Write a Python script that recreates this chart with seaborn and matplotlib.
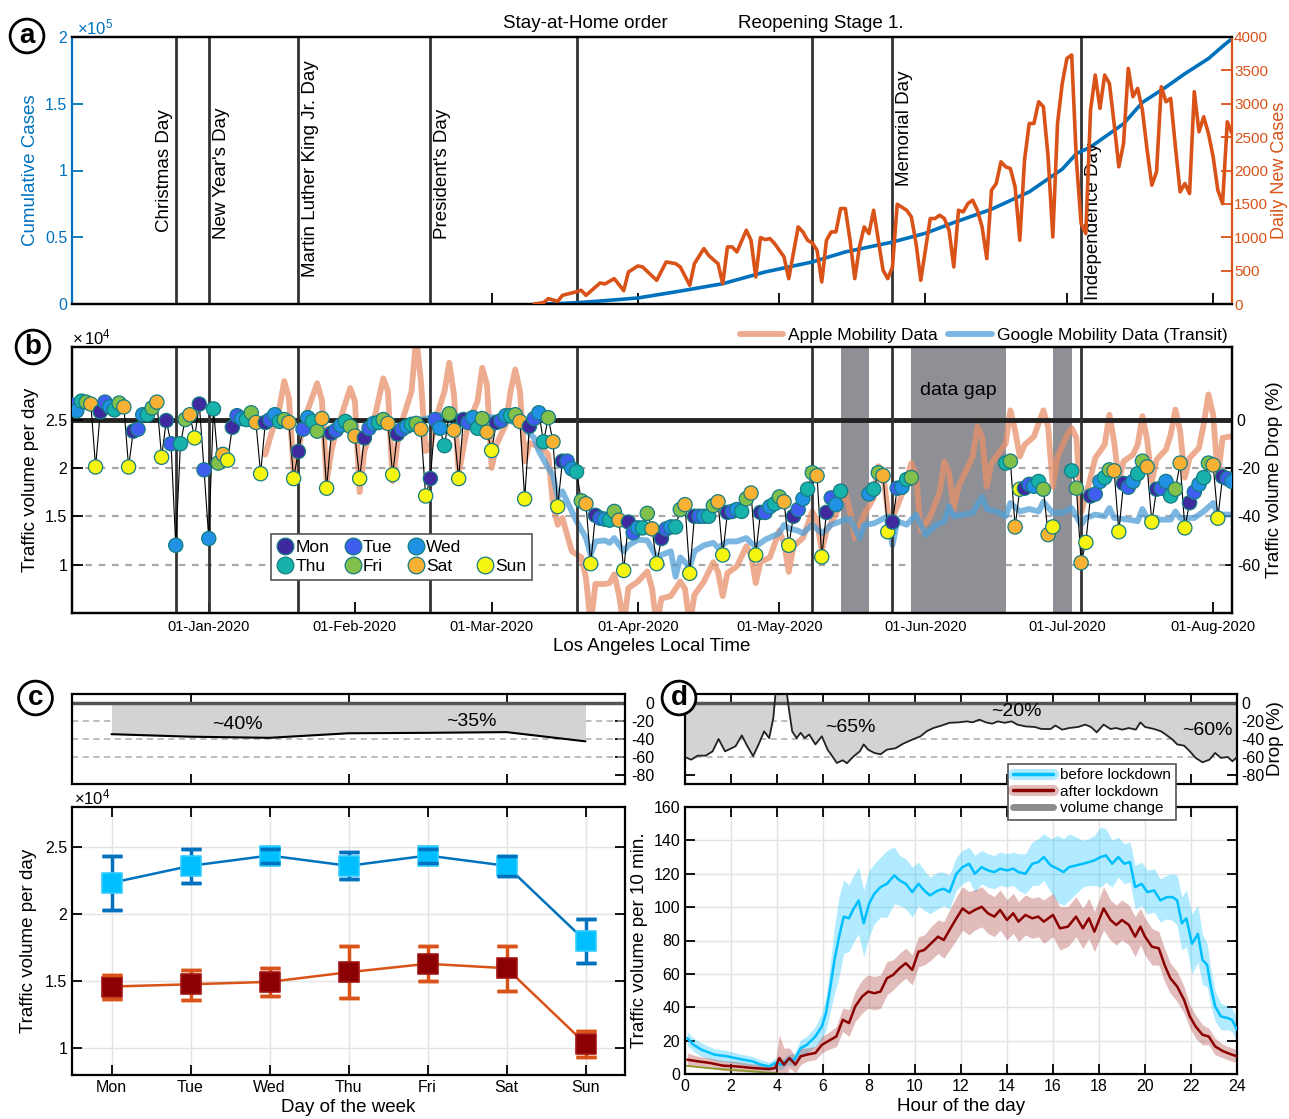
import matplotlib
matplotlib.use("Agg")
import matplotlib.pyplot as plt
import matplotlib.dates as mdates
import matplotlib.transforms as mtrans
from matplotlib.lines import Line2D
from matplotlib.ticker import FuncFormatter
import numpy as np
import pandas as pd
import seaborn as sns

# ======================= DATA =======================
holiday_names = ["Christmas Day", "New Year's Day", "Martin Luther King Jr. Day",
                 "President's Day", "Memorial Day", "Independence Day"]
holiday_dates = ["2019-12-25", "2020-01-01", "2020-01-20", "2020-02-17", "2020-05-25", "2020-07-04"]
policy_names = ["Stay-at-Home order", "Reopening Stage 1."]
policy_dates = ["2020-03-19", "2020-05-08"]

# panel a: cumulative cases
cum_days = ["03-10", "03-15", "03-20", "03-25", "04-01", "04-10", "04-19", "04-28", "05-08", "05-15",
            "05-25", "06-01", "06-07", "06-15", "06-23", "06-30", "07-03", "07-06", "07-13", "07-17",
            "07-22", "07-26", "07-31", "08-03", "08-05"]
cum_cases = [0, 300, 1200, 2500, 4500, 9700, 15200, 24000, 31500, 39000,
             46400, 53000, 61000, 71000, 84000, 101000, 112600, 117600, 135000, 151000,
             162500, 172500, 183800, 193000, 198800]

# panel a: daily new cases (irregular readings until May, then daily from Jun 2)
new_days_early = ["03-10", "03-12", "03-13", "03-15", "03-16", "03-18", "03-20", "03-21", "03-24", "03-25",
                  "03-27", "03-29", "03-30",
                  "04-01", "04-02", "04-05", "04-07", "04-09", "04-10", "04-12", "04-13", "04-15", "04-16",
                  "04-17", "04-18", "04-19", "04-20", "04-21", "04-22", "04-24", "04-25", "04-26", "04-27",
                  "04-28", "04-29", "04-30",
                  "05-02", "05-03", "05-05", "05-06", "05-07", "05-08", "05-09", "05-10", "05-11", "05-12",
                  "05-13", "05-14", "05-15", "05-16", "05-17", "05-18", "05-19", "05-20", "05-21", "05-22",
                  "05-23", "05-24", "05-25", "05-26", "05-28", "05-29", "05-30", "05-31"]
new_cases_early = [0, 20, 80, 40, 130, 165, 205, 130, 315, 300, 380, 200, 480,
                   570, 555, 355, 630, 605, 555, 280, 605, 830, 730, 665, 605, 305, 855, 855, 780, 1105,
                   955, 405, 995, 965, 980, 905,
                   705, 380, 1155, 1080, 955, 915, 805, 330, 955, 1080, 1080, 1430, 1430, 955, 380, 855,
                   1155, 1055, 1405, 955, 505, 380, 555, 1495, 1405, 1305, 905, 355]
new_cases_daily_start = "2020-06-02"
new_cases_daily = [1280, 1280, 1330, 1280, 1105, 555, 1405, 1380, 1505, 1555, 1405, 1155, 680, 1705, 1805,
                   2130, 2055, 2030, 1755, 955, 2155, 2705, 2705, 3030, 2955, 2205, 1005, 2705, 3305,
                   3680, 3730, 2155, 1205, 1055, 2905, 3430, 2930, 3430, 3305, 2705, 2055, 2405, 3530, 3105,
                   3230, 2905, 2305, 1780, 1980, 3255, 3030, 3080, 2355, 1680, 1805, 1655, 3180, 2580, 2805,
                   2555,
                   2205, 1705, 1505, 2730, 2555]

# panel b: daily traffic volume (x1e4), contiguous segments
traffic_seg_starts = ["2019-12-03", "2020-05-20", "2020-06-18", "2020-07-02"]
traffic_seg1_e4 = [
    # Dec 3-31
    2.65, 2.59, 2.69, 2.68, 2.66, 2.01, 2.58, 2.68, 2.63, 2.60, 2.67, 2.63, 2.01, 2.38, 2.40, 2.55, 2.55,
    2.62, 2.68, 2.11, 2.49, 2.25, 1.20, 2.25, 2.50, 2.55, 2.31, 2.66, 1.98,
    # Jan
    1.27, 2.61, 2.05, 2.14, 2.08, 2.42, 2.54, 2.51, 2.50, 2.57, 2.47, 1.94, 2.47, 2.50, 2.55, 2.48, 2.50,
    2.47, 1.89, 2.17, 2.40, 2.52, 2.48, 2.38, 2.51, 1.79, 2.36, 2.39, 2.44, 2.48, 2.43,
    # Feb
    2.33, 1.89, 2.31, 2.41, 2.46, 2.47, 2.50, 2.46, 1.93, 2.35, 2.40, 2.43, 2.45, 2.46, 2.40, 1.71, 1.89,
    2.50, 2.41, 2.23, 2.56, 2.39, 1.89, 2.50, 2.47, 2.52, 2.41, 2.51, 2.37,
    # Mar
    2.18, 2.47, 2.49, 2.54, 2.54, 2.55, 2.48, 1.68, 2.43, 2.51, 2.57, 2.27, 2.52, 2.27, 1.60, 2.07, 2.07,
    1.99, 1.96, 1.66, 1.63, 1.01, 1.51, 1.48, 1.47, 1.46, 1.55, 1.46, 0.94, 1.44, 1.33,
    # Apr
    1.38, 1.38, 1.53, 1.37, 1.01, 1.27, 1.37, 1.39, 1.39, 1.57, 1.62, 0.91, 1.50, 1.50, 1.50, 1.50, 1.61,
    1.65, 1.10, 1.54, 1.55, 1.57, 1.55, 1.68, 1.74, 1.10, 1.54, 1.54, 1.60, 1.63,
    # May 1-14
    1.70, 1.65, 1.20, 1.50, 1.57, 1.68, 1.78, 1.95, 1.92, 1.08, 1.54, 1.69, 1.62, 1.76]
traffic_seg2_e4 = [1.73, 1.78, 1.95, 1.92, 1.34, 1.44, 1.79, 1.80, 1.88, 1.90]
traffic_seg3_e4 = [2.05, 2.07, 1.39, 1.78, 1.79, 1.83, 1.81, 1.86, 1.78, 1.31, 1.39]
traffic_seg4_e4 = [1.97, 1.79, 1.02, 1.23, 1.71, 1.73, 1.86, 1.90, 1.98, 1.97, 1.34, 1.84, 1.80, 1.86,
                   1.94, 2.07, 2.01, 1.44, 1.78, 1.79, 1.86, 1.71, 1.78, 2.05, 1.38, 1.64, 1.75, 1.83,
                   1.90, 2.05, 2.03, 1.48, 1.91, 1.89, 1.86]

gap_starts = ["2020-05-14", "2020-05-29", "2020-06-28"]
gap_ends = ["2020-05-20", "2020-06-18", "2020-07-02"]

apple_days = ["01-13", "01-14", "01-16", "01-17", "01-18", "01-19", "01-20", "01-21", "01-22", "01-24",
              "01-25", "01-26", "01-27", "01-28", "01-29", "01-31",
              "02-01", "02-02", "02-03", "02-05", "02-07", "02-08", "02-09", "02-10", "02-11", "02-13",
              "02-14", "02-15", "02-16", "02-17", "02-18", "02-20", "02-21", "02-22", "02-23", "02-24",
              "02-25", "02-27", "02-28", "02-29",
              "03-01", "03-02", "03-04", "03-05", "03-06", "03-07", "03-08", "03-09", "03-10", "03-12",
              "03-13", "03-14", "03-15", "03-16", "03-17", "03-18", "03-20", "03-21", "03-22", "03-23",
              "03-25", "03-26", "03-27", "03-28", "03-29", "03-30",
              "04-01", "04-03", "04-04", "04-05", "04-06", "04-08", "04-10", "04-11", "04-12", "04-13",
              "04-15", "04-17", "04-18", "04-19", "04-20", "04-22", "04-24", "04-25", "04-26", "04-27",
              "04-29",
              "05-01", "05-02", "05-03", "05-04", "05-06", "05-08", "05-09", "05-10", "05-11", "05-13",
              "05-15", "05-16", "05-17", "05-19", "05-21", "05-22", "05-23", "05-24", "05-25", "05-27",
              "05-29", "05-30", "05-31",
              "06-02", "06-04", "06-05", "06-06", "06-07", "06-08", "06-10", "06-11", "06-12", "06-13",
              "06-14", "06-15", "06-17", "06-18", "06-19", "06-20", "06-21", "06-22", "06-24", "06-26",
              "06-27", "06-28", "06-29",
              "07-01", "07-02", "07-03", "07-04", "07-06", "07-07", "07-09", "07-10", "07-11", "07-12",
              "07-13", "07-15", "07-16", "07-17", "07-18", "07-19", "07-20", "07-22", "07-23", "07-24",
              "07-25", "07-26", "07-27", "07-29", "07-30", "07-31",
              "08-01", "08-02", "08-03", "08-05"]
apple_drop = [-14.5, -7.6, 4.8, 15.9, 9, -21.4, -13, -2, 4, 15, 8, -25.5, -13, -5, 0.7, 13,
              7.6, -30, -13, -0.7, 17, 11.7, -25.5, -10, -0.7, 11.7, 34, 15.9, -13, -11.7, -0.7, 11.7,
              23.5, 10.4, -22.8, -11.7, -2, 7.6, 21.4, 14.5,
              -20, -10.4, -2, 11.7, 20.7, 11.7, -17.3, -9.7, -10.4, -12.4, -14.5, -35, -43.5, -40.7,
              -47.6, -54.5, -57, -65.5, -85, -68, -68, -67.6, -64, -72.5, -85, -69.7,
              -67, -62.8, -69.7, -85, -74, -73, -67, -70, -85, -72.5, -67, -59, -63, -73, -63.5, -60.7,
              -52.4, -56, -67.6, -59, -57,
              -46, -51, -63, -52.4, -49, -38, -42, -54.5, -46, -39.3, -29.7, -38, -49, -39.3, -32.4,
              -19.3, -22, -38, -40.7, -31, -18, -22.8, -46,
              -40, -30, -17.4, -22, -37, -27.7, -19.5, -15.3, -3, -7, -27.7, -18, -12.6, -10, 3.8, -4.4,
              -15.3, -10.5, -7, 3.8, -3, -27.7, -15.3,
              -6.5, -3.5, -7.6, -38.6, -24, -15.9, -10.4, 2, -9, -25.5, -17.3, -14.5, -10.4, 1.4, -8.3,
              -25.5, -16.6, -12.4, -6.2, 4.1, -4.8, -24, -15.9, -11.7, -2, 10.4,
              2, -24, -7.6, -6.9]

google_days = ["02-15", "02-18", "02-21", "02-24", "02-27",
               "03-01", "03-04", "03-07", "03-10", "03-11", "03-13", "03-14", "03-15", "03-16", "03-18",
               "03-19", "03-21", "03-22", "03-23", "03-25", "03-26", "03-27", "03-29", "03-30",
               "04-01", "04-03", "04-05", "04-06", "04-08", "04-09", "04-10", "04-12", "04-13", "04-15",
               "04-17", "04-18", "04-20", "04-22", "04-24", "04-25", "04-26", "04-28",
               "05-01", "05-02", "05-03", "05-05", "05-06", "05-08", "05-10", "05-11", "05-12", "05-15",
               "05-16", "05-18", "05-19", "05-21", "05-22", "05-24", "05-25", "05-26", "05-28", "05-30",
               "06-01", "06-03", "06-05", "06-06", "06-07", "06-10", "06-11", "06-13", "06-14", "06-16",
               "06-18", "06-19", "06-21", "06-23", "06-25", "06-26", "06-28", "06-30",
               "07-02", "07-04", "07-05", "07-07", "07-09", "07-10", "07-11", "07-14", "07-16", "07-17",
               "07-18", "07-21", "07-23", "07-24", "07-25", "07-28", "07-30",
               "08-01", "08-02", "08-05"]
google_drop = [0, 1, 3, 0, 1,
               1, 0, -2, -7.6, -13, -20, -23, -32, -29.7, -38, -42, -49, -56, -50.4, -50, -51, -49, -54.5, -52,
               -49.7, -50, -57, -56, -54.5, -65, -57, -61, -54.5, -52, -51, -53, -50.4, -50.4, -49, -51,
               -52.4, -49.7,
               -47, -43.5, -45, -46, -47, -43.5, -47, -45.5, -43.5, -41.4, -41, -49, -43.5, -43, -42, -40,
               -52, -42, -43.5, -39.3,
               -47.6, -44, -42, -36, -40, -39, -38.6, -32, -37, -38, -40, -34.5, -38, -37, -38, -34,
               -38.6, -38.6,
               -36.6, -43.5, -40.7, -39.3, -40, -36.6, -40.7, -41.4, -42, -37, -40.7, -41.4, -41.4, -38,
               -40.7, -40.7, -38,
               -34.5, -39.3, -39.3]

# panel c: weekly profile (x1e4)
weekdays = ["Mon", "Tue", "Wed", "Thu", "Fri", "Sat", "Sun"]
before_mean_e4 = [2.234, 2.361, 2.438, 2.361, 2.438, 2.361, 1.800]
before_lo_e4 = [2.033, 2.234, 2.384, 2.261, 2.380, 2.284, 1.637]
before_hi_e4 = [2.438, 2.488, 2.488, 2.463, 2.490, 2.438, 1.966]
after_mean_e4 = [1.460, 1.477, 1.495, 1.567, 1.630, 1.597, 1.033]
after_lo_e4 = [1.366, 1.361, 1.386, 1.376, 1.503, 1.430, 0.937]
after_hi_e4 = [1.548, 1.585, 1.602, 1.759, 1.759, 1.764, 1.130]

# panel d: daily profile (per 10 min)
before_hours = [0.1, 0.37, 0.73, 1.28, 1.83, 2.38, 2.93, 3.3, 3.66, 3.93,
                4.2, 4.48, 4.76, 5.03, 5.3, 5.67, 5.95, 6.13, 6.3, 6.5,
                6.7, 6.9, 7.13, 7.3, 7.55, 7.77, 8.0, 8.23, 8.5, 8.78,
                9.1, 9.33, 9.6, 9.88, 10.15, 10.4, 10.65, 11.0, 11.25, 11.5,
                11.8, 12.07, 12.35, 12.6, 12.9, 13.17, 13.45, 13.7, 14.0, 14.27,
                14.5, 14.8, 15.1, 15.36, 15.6, 15.9, 16.2, 16.46, 16.7, 17.0,
                17.3, 17.56, 17.8, 18.07, 18.3, 18.57, 18.84, 19.1, 19.35, 19.57,
                19.85, 20.1, 20.4, 20.67, 20.95, 21.2, 21.4, 21.6, 21.8, 22.04,
                22.3, 22.5, 22.7, 22.86, 23.05, 23.3, 23.6, 23.78, 24.0]
before_vol = [21.5, 17.5, 14.5, 11.6, 10.6, 9.0, 7.6, 5.6, 4.6, 6.6,
              5.6, 8.6, 8.6, 15.5, 17.5, 22.5, 28.5, 36.5, 50.4, 68.4,
              82.3, 94.3, 93.3, 98.3, 104, 90.3, 102, 108, 112, 114,
              119, 116, 114, 109, 114, 110, 107, 110, 111, 109,
              120, 124, 126, 120, 124, 122, 121, 123, 122, 123,
              121, 120, 126, 127, 130, 125, 123, 121, 124, 125,
              126, 127, 128, 130, 131, 126, 130, 126, 127, 112,
              114, 109, 110, 104, 106, 106, 104, 90.3, 93.3, 78,
              84, 68.4, 65.4, 52.4, 40.5, 34.5, 33.5, 32.5, 26.5]
before_err = [4, 4, 4, 3.5, 3.5, 3, 3, 3, 2.5, 3,
              3, 3, 4, 5, 5, 6, 8, 10, 14, 20,
              24, 22, 20, 20, 20, 20, 20, 18, 18, 20,
              17, 15, 15, 15, 13, 12, 11, 11, 10, 10,
              10, 10, 10, 11, 10, 10, 10, 10, 10, 10,
              11, 12, 13, 14, 14, 16, 20, 20, 20, 17,
              14, 14, 15, 18, 16, 14, 12, 12, 12, 13,
              13, 13, 13, 13, 13, 14, 15, 16, 17, 18,
              17, 15, 13, 11, 9, 8, 7, 7, 7]
after_hours = [0.1, 0.55, 1.1, 1.65, 2.2, 2.93, 3.66, 3.93, 4.1, 4.3,
               4.54, 4.8, 5.03, 5.3, 5.67, 5.95, 6.2, 6.58, 6.86, 7.13,
               7.4, 7.7, 7.96, 8.23, 8.5, 8.78, 9.05, 9.33, 9.6, 9.88,
               10.15, 10.4, 10.7, 11.0, 11.25, 11.5, 11.8, 12.07, 12.35, 12.6,
               12.9, 13.17, 13.45, 13.7, 14.0, 14.27, 14.5, 14.8, 15.1, 15.36,
               15.6, 16.0, 16.3, 16.65, 17.0, 17.3, 17.56, 17.8, 18.2, 18.5,
               18.75, 19.0, 19.3, 19.57, 19.8, 20.0, 20.3, 20.6, 20.85, 21.1,
               21.4, 21.7, 21.95, 22.2, 22.5, 22.77, 23.05, 23.4, 23.78, 24.0]
after_vol = [8.6, 7.6, 6.6, 5.0, 4.6, 3.6, 3.0, 3.6, 9.6, 5.6,
             9.6, 5.6, 10.6, 11.6, 12.6, 17.5, 19.5, 22.5, 32.5, 30.5,
             40.5, 46.4, 49.4, 48.4, 49.4, 57.4, 59.4, 63.4, 66.4, 62.4,
             73.3, 74.3, 78.3, 82.3, 80.3, 86.3, 93.3, 99.2, 96.3, 98.3,
             100.2, 96.3, 94.3, 98.3, 92.3, 96.3, 91.3, 95.3, 93.3, 94.3,
             91.3, 95.3, 87.3, 88.3, 94.3, 87.3, 93.3, 85.3, 99.2, 92.3,
             89.3, 92.3, 89.3, 82.3, 88.3, 82.3, 76.3, 75.3, 65.4, 57.4,
             52.4, 44.4, 34.5, 28.5, 23.5, 22.5, 16.5, 13.6, 11.6, 10.6]
after_err = [4, 3, 3, 3, 3, 2.5, 2.5, 3, 14, 10,
             6, 5, 5, 4, 4, 5, 5, 6, 7, 8,
             9, 10, 10, 10, 10, 10, 9, 9, 9, 9,
             9, 9, 10, 10, 11, 12, 13, 13, 13, 12,
             12, 12, 12, 12, 12, 12, 12, 12, 12, 12,
             13, 13, 13, 12, 12, 12, 12, 12, 13, 12,
             12, 12, 12, 12, 11, 11, 11, 10, 10, 9,
             9, 8, 7, 7, 6, 5, 5, 4, 4, 4]
drop_hours = [0.0, 0.27, 0.55, 0.9, 1.2, 1.46, 1.74, 1.9, 2.2, 2.47,
              2.7, 2.96, 3.2, 3.44, 3.66, 3.84, 3.93, 4.0, 4.4, 4.48,
              4.66, 4.85, 5.03, 5.2, 5.4, 5.67, 5.95, 6.2, 6.4, 6.6,
              6.86, 7.04, 7.3, 7.6, 7.77, 7.96, 8.23, 8.5, 8.78, 9.15,
              9.5, 9.88, 10.24, 10.5, 10.8, 11.16, 11.5, 11.9, 12.25, 12.5,
              12.8, 13.08, 13.35, 13.6, 13.9, 14.2, 14.45, 14.8, 15.2, 15.5,
              15.9, 16.1, 16.4, 16.7, 17.1, 17.4, 17.65, 17.9, 18.2, 18.5,
              18.75, 19.0, 19.3, 19.6, 19.8, 20.0, 20.4, 20.7, 20.9, 21.2,
              21.4, 21.7, 21.95, 22.2, 22.5, 22.8, 23.05, 23.3, 23.6, 23.8,
              24.0]
drop_pct = [-60, -63, -58.5, -58.5, -53.7, -40, -53.7, -51.8, -48, -36,
            -47.4, -59, -46, -31.5, -39, -16.7, 9, 18, 18, 0,
            -31.5, -39, -33, -39, -35, -46, -37, -51.8, -59, -66.6,
            -63.6, -67, -60, -53.7, -46, -51.8, -55.5, -57, -51.8, -50.3,
            -45, -40.7, -37, -31.5, -27.8, -25, -22, -21.5, -20.4, -21.5,
            -18.5, -21.5, -23, -20.4, -22, -20.4, -24, -26, -26.6, -28.9,
            -28.9, -25, -29.6, -27.8, -26.6, -24, -26.6, -32.6, -24, -28.9,
            -27.8, -29.6, -27.8, -29.6, -21.5, -26.6, -28.9, -31.5, -35, -40.7,
            -46, -47.4, -53.7, -61, -65.9, -63, -55.5, -61, -60, -64.8,
            -60]
extra_hours = [0, 1, 2, 3, 4]
extra_vol = [5, 3.5, 2.5, 1.5, 0.5]

# ======================= STYLE =======================
sns.set_theme(style="ticks")
plt.rcParams.update({
    "font.family": ["Liberation Sans", "DejaVu Sans"],
    "mathtext.fontset": "custom",
    "mathtext.rm": "Liberation Sans",
    "mathtext.it": "Liberation Sans:italic",
    "mathtext.bf": "Liberation Sans:bold",
    "axes.unicode_minus": False,
    "xtick.direction": "in", "ytick.direction": "in",
    "xtick.major.size": 7, "ytick.major.size": 7,
    "xtick.major.width": 1.3, "ytick.major.width": 1.3,
    "axes.linewidth": 1.6, "axes.edgecolor": "black",
    "xtick.color": "black", "ytick.color": "black",
    "text.color": "black", "axes.labelcolor": "black",
})

BLUE = "#0072BD"
ORANGE = "#D95319"
EVENT = "#333333"
TICK = 11.5
LAB = 13.5

W, H = 1289, 1119
fig = plt.figure(figsize=(W / 100, H / 100), dpi=100)


def add_ax(l, t, r, b):
    return fig.add_axes([l / W, 1 - b / H, (r - l) / W, (b - t) / H])


def d2020(days):
    return pd.to_datetime(["2020-" + d for d in days])


XMIN, XMAX = pd.Timestamp("2019-12-03"), pd.Timestamp("2020-08-05")
e4 = FuncFormatter(lambda v, p: f"{v / 1e4:g}")

# ======================= PANEL A =======================
axA = add_ax(72, 37, 1232, 304)
axA2 = axA.twinx()

df_cum = pd.DataFrame({"date": d2020(cum_days), "cases": cum_cases})
new_dates = list(d2020(new_days_early)) + list(pd.date_range(new_cases_daily_start, periods=len(new_cases_daily)))
df_new = pd.DataFrame({"date": new_dates, "cases": new_cases_early + new_cases_daily})

for d in holiday_dates + policy_dates:
    axA.axvline(pd.Timestamp(d), color=EVENT, lw=2, zorder=1)
sns.lineplot(data=df_cum, x="date", y="cases", ax=axA, color=BLUE, lw=2.6, zorder=3)
sns.lineplot(data=df_new, x="date", y="cases", ax=axA2, color=ORANGE, lw=2.6, zorder=3)

axA.set_xlim(XMIN, XMAX)
axA.set_ylim(0, 2e5)
axA2.set_ylim(0, 4000)
axA.set_yticks([0, 0.5e5, 1e5, 1.5e5, 2e5])
axA.yaxis.set_major_formatter(FuncFormatter(lambda v, p: f"{v / 1e5:g}"))
axA2.set_yticks(np.arange(0, 4001, 500))
axA.set_xticks(pd.to_datetime(["2020-03-01", "2020-04-01", "2020-05-01", "2020-06-01", "2020-07-01", "2020-08-01"]))
axA.tick_params(axis="x", labelbottom=False, length=8)
axA.tick_params(axis="y", colors=BLUE, labelsize=TICK, length=8)
axA2.tick_params(axis="y", colors=ORANGE, labelsize=11, length=8, pad=1.5)
axA.set_xlabel("")
axA.set_ylabel("Cumulative Cases", color=BLUE, fontsize=LAB, labelpad=4)
axA2.set_ylabel("Daily New Cases", color=ORANGE, fontsize=13, labelpad=2)
axA.spines["left"].set_color(BLUE)
axA.spines["right"].set_visible(False)
axA2.spines["left"].set_visible(False)
axA2.spines["right"].set_color(ORANGE)
axA.text(0.004, 1.0, r"$\times10^5$", transform=axA.transAxes, color=BLUE, fontsize=12,
         ha="left", va="bottom")

hol_y = [53900, 48700, 20200, 48700, 88400, 3000]
hol_side = ["left", "right", "right", "right", "right", "right"]
for name, d, y, side in zip(holiday_names, holiday_dates, hol_y, hol_side):
    dx = -3 if side == "left" else 4
    tr = mtrans.offset_copy(axA.transData, fig=fig, x=dx, y=0, units="dots")
    axA.text(pd.Timestamp(d), y, name, rotation=90, fontsize=LAB, transform=tr,
             ha="right" if side == "left" else "left", va="bottom")
for name, d, dx in zip(policy_names, policy_dates, [9, 8]):
    axA.annotate(name, xy=(pd.Timestamp(d), 1), xycoords=("data", "axes fraction"),
                 xytext=(dx, 14), textcoords="offset pixels", ha="center", va="center", fontsize=LAB)

# ======================= PANEL B =======================
axB = add_ax(72, 347, 1232, 613)   # drop % (right)
axB2 = axB.twinx()                  # traffic volume (left)
axB.yaxis.tick_right()
axB.yaxis.set_label_position("right")
axB2.yaxis.tick_left()
axB2.yaxis.set_label_position("left")

for lev in [-20, -40, -60]:
    axB.axhline(lev, color="#aaaaaa", lw=1.6, ls=(0, (3, 3)), zorder=1)
for s, e in zip(gap_starts, gap_ends):
    axB.axvspan(pd.Timestamp(s), pd.Timestamp(e), color="#8f9095", lw=0, zorder=1.5)
df_apple = pd.DataFrame({"date": d2020(apple_days), "drop": apple_drop})
df_google = pd.DataFrame({"date": d2020(google_days), "drop": google_drop})
sns.lineplot(data=df_apple, x="date", y="drop", ax=axB, color="#E8906A", alpha=0.75, lw=4.2, zorder=2)
sns.lineplot(data=df_google, x="date", y="drop", ax=axB, color="#4f9fd8", alpha=0.75, lw=4.2, zorder=2.1)
axB.axhline(0, color="#222222", lw=3.5, zorder=3)
for d in holiday_dates + policy_dates:
    axB.axvline(pd.Timestamp(d), color=EVENT, lw=2, zorder=3.2)

segs = [traffic_seg1_e4, traffic_seg2_e4, traffic_seg3_e4, traffic_seg4_e4]
frames = []
for start, vals in zip(traffic_seg_starts, segs):
    dts = pd.date_range(start, periods=len(vals))
    f = pd.DataFrame({"date": dts, "vol": np.array(vals) * 1e4})
    axB2.plot(f["date"], f["vol"], color="black", lw=0.8, zorder=2)
    frames.append(f)
df_tr = pd.concat(frames, ignore_index=True)
df_tr["wd"] = df_tr["date"].dt.day_name().str[:3]
pal = {"Mon": "#3e2a9e", "Tue": "#3f5ef0", "Wed": "#2191e3", "Thu": "#17b3aa",
       "Fri": "#82c04c", "Sat": "#f8b132", "Sun": "#f6f511"}
EDGE = "#147d84"
sns.scatterplot(data=df_tr, x="date", y="vol", hue="wd", palette=pal, hue_order=list(pal.keys()),
                s=105, edgecolor=EDGE, linewidth=0.9, legend=False, ax=axB2, zorder=3)

axB.set_xlim(XMIN, XMAX)
axB.set_ylim(-80, 30)
axB.set_yticks([-60, -40, -20, 0])
axB2.set_ylim(0.5e4, 3.25e4)
axB2.set_yticks([1e4, 1.5e4, 2e4, 2.5e4])
axB2.yaxis.set_major_formatter(e4)
axB.set_xticks(pd.to_datetime(["2020-01-01", "2020-02-01", "2020-03-01", "2020-04-01",
                               "2020-05-01", "2020-06-01", "2020-07-01", "2020-08-01"]))
axB.xaxis.set_major_formatter(mdates.DateFormatter("%d-%b-%Y"))
axB.tick_params(axis="x", labelsize=10.5, length=8, pad=5)
axB.tick_params(axis="y", labelsize=TICK, length=8)
axB2.tick_params(axis="y", labelsize=TICK, length=8)
axB.set_xlabel("Los Angeles Local Time", fontsize=LAB, labelpad=3)
axB.set_ylabel("Traffic volume Drop (%)", fontsize=LAB, labelpad=4)
axB2.set_ylabel("Traffic volume per day", fontsize=LAB, labelpad=4)
axB2.set_xlabel("")
axB2.text(0.0, 1.0, r"$\times\,10^4$", transform=axB2.transAxes, fontsize=12, ha="left", va="bottom")
axB.text(pd.Timestamp("2020-06-08"), 0.838, "data gap", fontsize=14, ha="center", va="center",
         transform=mtrans.blended_transform_factory(axB.transData, axB.transAxes), zorder=4)

mob_handles = [Line2D([], [], color="#E8906A", alpha=0.75, lw=4.2),
               Line2D([], [], color="#4f9fd8", alpha=0.75, lw=4.2)]
axB.legend(mob_handles, ["Apple Mobility Data", "Google Mobility Data (Transit)"], ncol=2,
           loc="lower right", bbox_to_anchor=(1.0, 1.0), frameon=False, fontsize=12.5,
           handlelength=2.5, handletextpad=0.3, columnspacing=0.6, borderaxespad=0.15, borderpad=0.1)

wd_h = {w: Line2D([], [], ls="", marker="o", markersize=12, markerfacecolor=c,
                  markeredgecolor=EDGE, markeredgewidth=0.9) for w, c in pal.items()}
blank = Line2D([], [], ls="", marker="")
order = ["Mon", "Thu", "Tue", "Fri", "Wed", "Sat", None, "Sun"]
leg = axB2.legend([wd_h[w] if w else blank for w in order], [w if w else "" for w in order],
                  ncol=4, loc="lower left", bbox_to_anchor=(0.164, 0.092), fontsize=12.5, frameon=True,
                  fancybox=False, edgecolor="#555555", framealpha=1, handlelength=0.9,
                  handletextpad=0.15, columnspacing=0.9, borderpad=0.35, labelspacing=0.2)
leg.get_frame().set_linewidth(1.2)

# ======================= PANEL C =======================
pos = np.arange(len(weekdays))
axCt = add_ax(72, 694, 625, 784)
axC = add_ax(72, 807, 625, 1075)

bm = np.array(before_mean_e4) * 1e4
am = np.array(after_mean_e4) * 1e4
drop_week = (am / bm - 1) * 100
for lev in [-20, -40, -60]:
    axCt.axhline(lev, color="#aaaaaa", lw=1.1, ls=(0, (4, 3)), zorder=1)
axCt.fill_between(pos, 0, drop_week, color="#d3d3d5", lw=0, zorder=1.5)
axCt.axhline(0, color="#555555", lw=2.5, zorder=2)
sns.lineplot(x=pos, y=drop_week, ax=axCt, color="black", lw=1.5, zorder=3)
axCt.set_xlim(-0.5, 6.5)
axCt.set_ylim(-90, 10)
axCt.set_xticks([1, 3, 5])
axCt.set_yticks([-80, -60, -40, -20])
axCt.tick_params(top=True, right=True, left=False, labelbottom=False, labelleft=False, length=7)
axCt.text(1.6, -23.5, "~40%", fontsize=14, ha="center", va="center")
axCt.text(4.55, -20.5, "~35%", fontsize=14, ha="center", va="center")

axC.grid(True, color="#e3e3e3", lw=1)
for mean, lo, hi, lc, fc, ec in [
        (before_mean_e4, before_lo_e4, before_hi_e4, BLUE, "#00BFFF", "#33ccff"),
        (after_mean_e4, after_lo_e4, after_hi_e4, ORANGE, "#8B0000", "#a31515")]:
    m = np.array(mean) * 1e4
    err = [m - np.array(lo) * 1e4, np.array(hi) * 1e4 - m]
    sns.lineplot(x=pos, y=m, ax=axC, color=lc, lw=1.8, zorder=2)
    axC.errorbar(pos, m, yerr=err, fmt="none", ecolor=lc, elinewidth=2.5, capsize=7, capthick=2.5, zorder=2.5)
    sns.scatterplot(x=pos, y=m, ax=axC, marker="s", s=190, color=fc, edgecolor=ec, linewidth=1.2,
                    zorder=3, legend=False)
    axC.errorbar(pos, m, yerr=err, fmt="none", ecolor=lc, elinewidth=0, capsize=7, capthick=2.5, zorder=4)
axC.set_xlim(-0.5, 6.5)
axC.set_ylim(0.8e4, 2.8e4)
axC.set_yticks([1e4, 1.5e4, 2e4, 2.5e4])
axC.yaxis.set_major_formatter(e4)
axC.set_xticks(pos)
axC.set_xticklabels(weekdays)
axC.tick_params(top=True, right=True, labelsize=TICK, length=7)
axC.set_xlabel("Day of the week", fontsize=LAB, labelpad=3)
axC.set_ylabel("Traffic volume per day", fontsize=LAB, labelpad=6)
axC.text(0.004, 1.0, r"$\times10^4$", transform=axC.transAxes, fontsize=12, ha="left", va="bottom")

# ======================= PANEL D =======================
axDt = add_ax(685, 694, 1237, 784)
axD = add_ax(685, 807, 1237, 1074)

for lev in [-20, -40, -60]:
    axDt.axhline(lev, color="#aaaaaa", lw=1.1, ls=(0, (4, 3)), zorder=1)
axDt.fill_between(drop_hours, 0, drop_pct, color="#d3d3d5", lw=0, zorder=1.5)
axDt.axhline(0, color="#555555", lw=2.5, zorder=2)
sns.lineplot(x=drop_hours, y=drop_pct, ax=axDt, color="#222222", lw=1.3, zorder=3)
axDt.set_xlim(0, 24)
axDt.set_ylim(-90, 10)
axDt.set_xticks(np.arange(2, 24, 2))
axDt.set_yticks([-80, -60, -40, -20, 0])
axDt.tick_params(top=True, right=True, labelbottom=False, labelleft=True, labelright=True,
                 labelsize=TICK, length=7, pad=3)
axDt.set_ylabel("Drop (%)", fontsize=LAB, labelpad=2)
axDt.yaxis.set_label_position("right")
axDt.text(7.2, -27.5, "~65%", fontsize=14, ha="center", va="center")
axDt.text(14.4, -10, "~20%", fontsize=14, ha="center", va="center")
axDt.text(22.7, -30.5, "~60%", fontsize=14, ha="center", va="center")
# left labels of the drop strip sit further out from the axis, as in the reference
for tk in axDt.yaxis.get_major_ticks():
    tk.label1.set_transform(axDt.get_yaxis_text1_transform(0)[0] +
                            mtrans.ScaledTranslation(-22 / 72, 0, fig.dpi_scale_trans))

axD.grid(True, color="#e3e3e3", lw=1)
bv, be = np.array(before_vol), np.array(before_err)
av, ae = np.array(after_vol), np.array(after_err)
axD.fill_between(before_hours, bv - be, bv + be, color="#00BFFF", alpha=0.3, lw=0, zorder=1.5)
axD.fill_between(after_hours, av - ae, av + ae, color="#A83232", alpha=0.33, lw=0, zorder=1.6)
sns.lineplot(x=extra_hours, y=extra_vol, ax=axD, color="#8a9a2a", lw=1.3, zorder=2)
sns.lineplot(x=before_hours, y=before_vol, ax=axD, color="#00BFFF", lw=1.8, zorder=3)
sns.lineplot(x=after_hours, y=after_vol, ax=axD, color="#8B0000", lw=1.8, zorder=3.1)
axD.set_xlim(0, 24)
axD.set_ylim(0, 160)
axD.set_xticks(np.arange(0, 25, 2))
axD.set_yticks(np.arange(0, 161, 20))
axD.tick_params(top=True, right=True, labelsize=TICK, length=7)
axD.set_xlabel("Hour of the day", fontsize=LAB, labelpad=3)
axD.set_ylabel("Traffic volume per 10 min.", fontsize=LAB, labelpad=4)

d_handles = [(Line2D([], [], color="#00BFFF", alpha=0.3, lw=8), Line2D([], [], color="#00BFFF", lw=2.5)),
             (Line2D([], [], color="#A83232", alpha=0.33, lw=8), Line2D([], [], color="#8B0000", lw=2.5)),
             Line2D([], [], color="#8c8c8c", lw=5)]
legd = axD.legend(d_handles, ["before lockdown", "after lockdown", "volume change"], loc="upper left",
                  bbox_to_anchor=(0.572, 1.19), fontsize=11, frameon=True, fancybox=False,
                  edgecolor="#555555", framealpha=1, handlelength=2.6, handletextpad=0.5,
                  borderpad=0.3, labelspacing=0.15)
legd.get_frame().set_linewidth(1.2)

# ======================= PANEL LETTERS =======================
for letter, (px, py) in zip("abcd", [(27, 36), (33, 347), (35.5, 698), (679, 698)]):
    fig.text(px / W, 1 - py / H, letter, fontsize=20, fontweight="bold", ha="center", va="center",
             bbox=dict(boxstyle="circle,pad=0.14", fc="white", ec="black", lw=2), zorder=10)

fig.savefig("out.png", dpi=100)
